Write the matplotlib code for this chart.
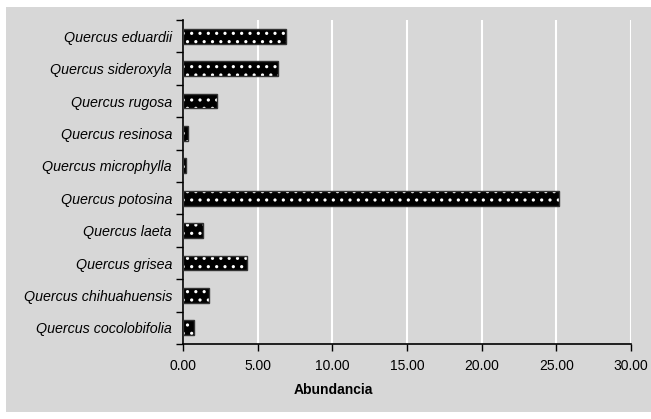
import matplotlib
matplotlib.use("Agg")
import matplotlib.pyplot as plt
import matplotlib.patches as mpatches

# ─── Data (top to bottom as shown) ───────────────────────────────────────────
species = [
    "Quercus eduardii",
    "Quercus sideroxyla",
    "Quercus rugosa",
    "Quercus resinosa",
    "Quercus microphylla",
    "Quercus potosina",
    "Quercus laeta",
    "Quercus grisea",
    "Quercus chihuahuensis",
    "Quercus cocolobifolia",
]
abundancia = [6.90, 6.33, 2.29, 0.33, 0.20, 25.17, 1.34, 4.30, 1.74, 0.73]
xticks = [0, 5, 10, 15, 20, 25, 30]

GRAY = "#d7d7d7"

plt.rcParams["font.family"] = ["Liberation Sans", "DejaVu Sans"]
plt.rcParams["hatch.linewidth"] = 1.1

fig = plt.figure(figsize=(6.51, 4.19), dpi=100)
fig.patch.set_facecolor("white")
fig.patches.append(mpatches.Rectangle((6 / 651, 7 / 419), 645 / 651, 405 / 419,
                                      transform=fig.transFigure, facecolor=GRAY,
                                      edgecolor="none", zorder=-10))

ax = fig.add_axes([183 / 651, 1 - 344 / 419, 448 / 651, 324 / 419])
ax.set_facecolor(GRAY)

pos = range(len(species))
# dotted fill: black face with white dot hatch, then a dark outline on top
ax.barh(pos, abundancia, height=0.46, color="black", hatch="..",
        edgecolor="white", linewidth=0, zorder=3)
ax.barh(pos, abundancia, height=0.46, fill=False, edgecolor="#333333",
        linewidth=1.0, zorder=4)

ax.set_xlim(0, 30)
ax.set_ylim(len(species) - 0.5, -0.5)
ax.set_xticks(xticks)
ax.set_xticklabels([f"{v:.2f}" for v in xticks], fontsize=10)
ax.set_yticks(list(pos))
ax.set_yticklabels(species, fontsize=10.3, fontstyle="italic")
ax.tick_params(axis="y", length=0, pad=8)
ax.set_yticks([i - 0.5 for i in range(len(species) + 1)], minor=True)
ax.tick_params(axis="y", which="minor", length=5, width=1, direction="out")
ax.tick_params(axis="x", length=5, width=1, direction="out", pad=6)

ax.grid(True, axis="x", color="white", lw=1.5, zorder=1)
ax.set_axisbelow(True)
for s in ["top", "right"]:
    ax.spines[s].set_visible(False)
for s in ["left", "bottom"]:
    ax.spines[s].set_color("black")
    ax.spines[s].set_linewidth(1.2)

fig.text(333 / 651, 1 - 390 / 419, "Abundancia", ha="center", va="center",
         fontsize=10, fontweight="bold")

plt.savefig("out.png", dpi=100)
